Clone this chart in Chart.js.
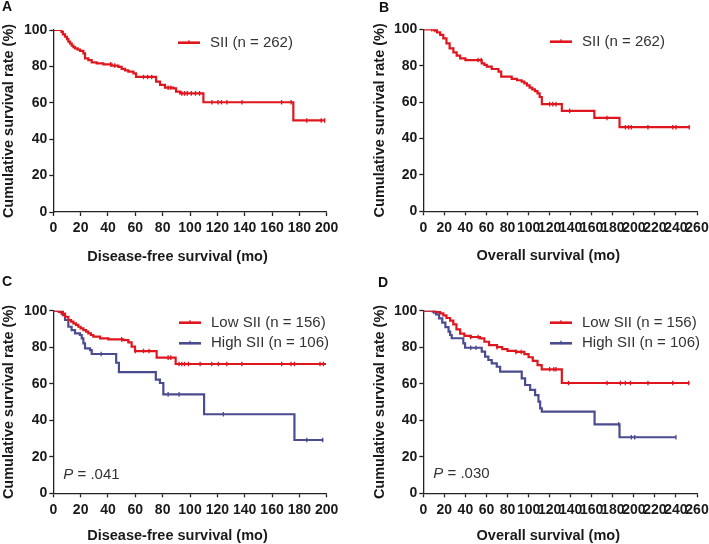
<!DOCTYPE html>
<html>
<head>
<meta charset="utf-8">
<script src="https://cdn.jsdelivr.net/npm/chart.js@4.4.0/dist/chart.umd.min.js"></script>
<style>
    html, body { margin: 0; padding: 0; background: #fff; overflow: hidden; }
    canvas { position: absolute; }
</style>
</head>
<body>
<canvas id="chart-a" width="354" height="270" style="left:0;top:0"></canvas>
<canvas id="chart-b" width="354" height="270" style="left:355px;top:0"></canvas>
<canvas id="chart-c" width="354" height="274" style="left:0;top:270px"></canvas>
<canvas id="chart-d" width="354" height="274" style="left:355px;top:270px"></canvas>
<script>
// A: disease-free survival, all patients
const dfsAllTime = [0, 6, 7, 8.6, 10, 11, 12.3, 13.5, 14.7, 15.9, 17.8, 19.6, 22, 23.2, 25.6, 28.1, 31.7, 36.6, 42.7, 47.6, 50, 52.5, 54.9, 58.6, 60.5, 75.2, 78.1, 81.7, 87.8, 89.8, 92.7, 109.8, 175.6, 198.8];
const dfsAllRate = [100, 99, 97.6, 96.3, 95, 93.6, 92.5, 91.4, 90.6, 89.9, 89.2, 88.5, 87.2, 84.4, 83.5, 82.2, 81.7, 81.1, 80.4, 79.7, 78.6, 77.8, 77.1, 76.2, 74.2, 71.6, 69.8, 68.3, 67.9, 66.1, 65.2, 60.3, 50.3, 50.3];
const dfsAllCensor = [42, 45, 66, 69, 72, 84, 86, 94, 96, 98, 101, 104, 107, 116, 120.5, 123, 127, 138, 167, 174, 185.4, 196, 198.5];

// B: overall survival, all patients
const osAllTime = [0, 10, 13, 16, 19, 22, 25, 28.6, 31.7, 35, 40, 55.5, 58, 60.3, 65, 71.4, 74, 84, 89, 93.5, 96, 98.5, 101, 103.5, 106, 108.5, 110.5, 112.6, 131.6, 162.5, 186.4, 253];
const osAllRate = [100, 99.6, 98.3, 96.9, 95, 92.3, 89.5, 87.3, 85.5, 84, 83.1, 81.3, 80.4, 79.5, 78.2, 76.7, 74, 72.8, 72, 71.2, 70.3, 69.2, 68, 67, 66, 64.8, 62.8, 58.9, 55.2, 51.3, 46.2, 46.2];
const osAllCensor = [8, 11, 52, 55, 120, 123, 126, 139, 174.5, 192, 195, 197.6, 213.4, 237, 240, 252.6];

// C: disease-free survival by SII
const dfsLowTime = [0, 4, 6, 8.6, 11, 13, 14.7, 16.5, 18.3, 20, 22, 24, 25.6, 27.5, 29.3, 34.2, 40.3, 51.2, 54.9, 57.3, 59.8, 75.6, 89.5, 199.5];
const dfsLowRate = [100, 99.4, 98.4, 96.7, 94.9, 94, 93.1, 92.2, 91.2, 90.3, 89.4, 88.5, 87.6, 86.7, 85.8, 84.8, 84.3, 83.9, 82.6, 80.3, 77.9, 74.3, 70.8, 70.8];
const dfsLowCensor = [50, 60, 66, 70, 84, 86, 92, 94, 96, 98.8, 107.4, 115.9, 120.7, 126.9, 137.9, 167.1, 173.9, 176.4, 195.1, 197.6];
const dfsHighTime = [0, 7, 8.6, 11, 13.4, 15.9, 19.5, 20.8, 22, 23.2, 26.9, 28.1, 46, 48, 75, 78, 80.5, 110.3, 176.4, 197.6];
const dfsHighRate = [100, 97.5, 94.9, 91.2, 89.4, 87.6, 86.7, 84.8, 82.1, 79.4, 78.4, 76.3, 71.5, 66.4, 62.2, 60.4, 54.2, 43.3, 29.2, 29.2];
const dfsHighCensor = [35, 84, 92, 124.4, 185.4, 197];

// D: overall survival by SII
const osLowTime = [0, 12, 16, 19, 22, 25.5, 28.5, 31.5, 35, 39, 45, 54, 58, 62.5, 70, 75, 80, 88, 96, 100, 104, 108.5, 112.5, 131.6, 253];
const osLowRate = [100, 99.3, 98.5, 97.4, 96, 94.6, 92.5, 89.8, 87.5, 86.2, 85.6, 84.8, 83, 81.2, 80, 79, 78, 77.4, 76.2, 74.5, 72.5, 70.2, 67.9, 60.4, 60.4];
const osLowCensor = [10, 45, 52, 70, 88, 93, 120, 124, 126, 137.9, 174.5, 187.2, 191.9, 196.7, 213.4, 236.9, 252];
const osHighTime = [0, 9, 12, 15, 18, 21, 24, 25.5, 27, 38, 39.7, 55.5, 58.7, 61.8, 65, 69.8, 73, 93.5, 96.7, 101.5, 106.2, 109.4, 111, 112.6, 162.7, 186.4, 240];
const osHighRate = [100, 99.5, 98, 95.8, 93.5, 91, 88.5, 86.7, 84.9, 82.1, 79.7, 77.6, 74.8, 73, 71.2, 69.3, 66.6, 62.9, 59.3, 56.6, 53.8, 50.2, 46.5, 44.7, 37.8, 30.7, 30.7];
const osHighCensor = [10, 45, 50, 185.6, 197.6, 200.8, 240];

const yTitle = 'Cumulative survival rate (%)';
const redColor = '#e0161e';
const blueColor = '#4b4b8f';
const fontFamily = 'Arial, "Liberation Sans", sans-serif';

function stepPoints(times, rates) {
    return times.map((t, i) => ({x: t, y: rates[i]}));
}

function rateAt(times, rates, t) {
    let r = rates[0];
    for (let i = 0; i < times.length; i++) {
        if (times[i] <= t) r = rates[i];
    }
    return r;
}

function censorPoints(times, rates, marks) {
    return marks.map(t => ({x: t, y: rateAt(times, rates, t)}));
}

function curveDatasets(times, rates, marks, color) {
    return [
        {
            data: stepPoints(times, rates),
            borderColor: color,
            borderWidth: 2.2,
            stepped: true,
            pointRadius: 0,
            fill: false
        },
        {
            data: censorPoints(times, rates, marks),
            showLine: false,
            pointStyle: 'line',
            pointRotation: 90,
            pointRadius: 2.3,
            pointBorderWidth: 1.3,
            pointBorderColor: color,
            pointBackgroundColor: color
        }
    ];
}

const kmDecor = {
    id: 'kmDecor',
    afterDraw(chart, args, opts) {
        const ctx = chart.ctx;
        ctx.save();
        ctx.textBaseline = 'middle';
        ctx.textAlign = 'left';
        ctx.fillStyle = '#111';
        ctx.font = `bold 14px ${fontFamily}`;
        ctx.fillText(opts.letter, opts.letterX, opts.letterY);

        ctx.textAlign = 'center';
        ctx.fillStyle = '#1a1a1a';
        ctx.font = `bold 14.5px ${fontFamily}`;
        ctx.fillText(opts.xTitle, opts.xTitleX, opts.xTitleY);

        ctx.textAlign = 'left';
        ctx.font = `15px ${fontFamily}`;
        opts.legend.forEach((item, i) => {
            const y = opts.legendY + i * 20.6;
            ctx.strokeStyle = item.color;
            ctx.lineWidth = 2.6;
            ctx.beginPath();
            ctx.moveTo(opts.legendX, y);
            ctx.lineTo(opts.legendX + 22, y);
            ctx.stroke();
            ctx.lineWidth = 1.3;
            ctx.beginPath();
            ctx.moveTo(opts.legendX + 11, y - 2.5);
            ctx.lineTo(opts.legendX + 11, y + 1);
            ctx.stroke();
            ctx.fillStyle = '#333';
            ctx.fillText(item.label, opts.legendX + 32, y);
        });

        if (opts.pValue) {
            ctx.fillStyle = '#333';
            ctx.font = `italic 15px ${fontFamily}`;
            ctx.fillText('P', opts.pX, opts.pY);
            const pw = ctx.measureText('P').width;
            ctx.font = `15px ${fontFamily}`;
            ctx.fillText(' = ' + opts.pValue, opts.pX + pw, opts.pY);
        }
        ctx.restore();
    }
};

function drawKmChart(canvasId, datasets, xMax, box, decor) {
    const tickFont = {family: fontFamily, size: 14, weight: 'bold'};
    const chartConfig = {
        type: 'line',
        data: {datasets: datasets},
        options: {
            responsive: false,
            animation: false,
            layout: {
                padding: {left: box.padLeft, right: box.padRight, top: box.top, bottom: 0}
            },
            scales: {
                x: {
                    type: 'linear',
                    min: 0,
                    max: xMax,
                    ticks: {stepSize: 20, autoSkip: false, maxRotation: 0, font: tickFont, color: '#1a1a1a', padding: 4},
                    grid: {drawOnChartArea: false, drawTicks: true, tickLength: 4, tickColor: '#222', tickWidth: 1.3},
                    border: {color: '#222', width: 1.3},
                    afterFit: function (scale) {
                        scale.height = box.xHeight;
                        scale.paddingLeft = 0;
                        scale.paddingRight = 0;
                    }
                },
                y: {
                    min: 0,
                    max: 100,
                    ticks: {stepSize: 20, font: tickFont, color: '#1a1a1a', padding: 2},
                    grid: {drawOnChartArea: false, drawTicks: true, tickLength: 4, tickColor: '#222', tickWidth: 1.3},
                    border: {color: '#222', width: 1.3},
                    title: {
                        display: true,
                        text: yTitle,
                        color: '#1a1a1a',
                        font: {family: fontFamily, size: 14.5, weight: 'bold'},
                        padding: {top: 0, bottom: 0}
                    },
                    afterFit: function (scale) {
                        scale.width = box.yWidth;
                        scale.paddingTop = 0;
                        scale.paddingBottom = 0;
                    }
                }
            },
            plugins: {
                legend: {display: false},
                tooltip: {enabled: false},
                kmDecor: decor
            }
        },
        plugins: [kmDecor]
    };
    const canvas = document.querySelector(canvasId);
    if (canvas) {
        const chart = new Chart(canvas, chartConfig);
    }
}

drawKmChart('#chart-a',
    curveDatasets(dfsAllTime, dfsAllRate, dfsAllCensor, redColor),
    200,
    {padLeft: 0, padRight: 27.3, top: 30, yWidth: 53.3, xHeight: 58},
    {
        letter: 'A', letterX: 2, letterY: 7.5,
        xTitle: 'Disease-free survival (mo)', xTitleX: 177.5, xTitleY: 257,
        legendX: 178, legendY: 42.7,
        legend: [{label: 'SII (n = 262)', color: redColor}]
    });

drawKmChart('#chart-b',
    curveDatasets(osAllTime, osAllRate, osAllCensor, redColor),
    260,
    {padLeft: 16.3, padRight: 12, top: 29.3, yWidth: 52, xHeight: 58.7},
    {
        letter: 'B', letterX: 24, letterY: 8,
        xTitle: 'Overall survival (mo)', xTitleX: 193.3, xTitleY: 255.5,
        legendX: 195, legendY: 41.7,
        legend: [{label: 'SII (n = 262)', color: redColor}]
    });

drawKmChart('#chart-c',
    curveDatasets(dfsLowTime, dfsLowRate, dfsLowCensor, redColor)
        .concat(curveDatasets(dfsHighTime, dfsHighRate, dfsHighCensor, blueColor)),
    200,
    {padLeft: 0, padRight: 27.3, top: 40.7, yWidth: 53.3, xHeight: 50.7},
    {
        letter: 'C', letterX: 2, letterY: 12,
        xTitle: 'Disease-free survival (mo)', xTitleX: 177.5, xTitleY: 266,
        legendX: 179, legendY: 52.7,
        legend: [{label: 'Low SII (n = 156)', color: redColor}, {label: 'High SII (n = 106)', color: blueColor}],
        pValue: '.041', pX: 63.3, pY: 205
    });

drawKmChart('#chart-d',
    curveDatasets(osLowTime, osLowRate, osLowCensor, redColor)
        .concat(curveDatasets(osHighTime, osHighRate, osHighCensor, blueColor)),
    260,
    {padLeft: 16.3, padRight: 12, top: 40.7, yWidth: 52, xHeight: 50.7},
    {
        letter: 'D', letterX: 23, letterY: 13,
        xTitle: 'Overall survival (mo)', xTitleX: 193.3, xTitleY: 266,
        legendX: 195, legendY: 52.7,
        legend: [{label: 'Low SII (n = 156)', color: redColor}, {label: 'High SII (n = 106)', color: blueColor}],
        pValue: '.030', pX: 78.3, pY: 204
    });
</script>
</body>
</html>
